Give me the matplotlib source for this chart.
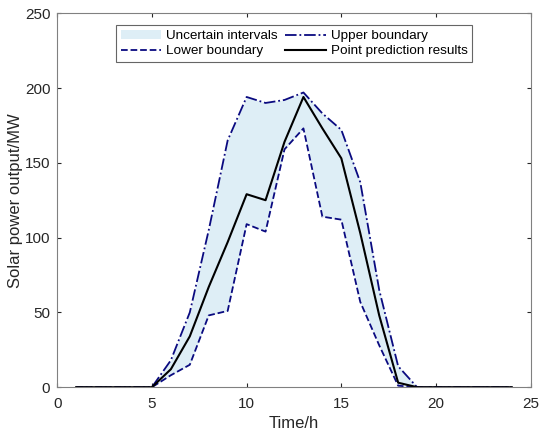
import numpy as np
import matplotlib
matplotlib.use('Agg')
from matplotlib import pyplot as plt

plt.rcParams['font.family'] = ['Liberation Sans', 'DejaVu Sans']

hours = np.arange(1, 25)
upper = [0, 0, 0, 0, 0, 18, 50, 105, 165, 194, 190, 192, 197, 183, 172, 137, 65, 14, 0, 0, 0, 0, 0, 0]
point = [0, 0, 0, 0, 0, 12, 34, 67, 97, 129, 125, 164, 194, 173, 153, 103, 48, 3, 0, 0, 0, 0, 0, 0]
lower = [0, 0, 0, 0, 0, 8, 15, 48, 51, 109, 104, 159, 173, 114, 112, 57, 28, 1, 0, 0, 0, 0, 0, 0]

fig = plt.figure(figsize=(5.5, 4.4), dpi=100)
ax = fig.add_axes([0.104, 0.12, 0.861, 0.85])

fill = ax.fill_between(hours, lower, upper, color='#deeef6', lw=0, label='Uncertain intervals')
l_low, = ax.plot(hours, lower, '--', color='#0a0a80', lw=1.3, label='Lower boundary')
l_up, = ax.plot(hours, upper, '-.', color='#0a0a80', lw=1.3, label='Upper boundary')
l_pt, = ax.plot(hours, point, '-', color='black', lw=1.5, label='Point prediction results')

ax.set_xlim(0, 25)
ax.set_ylim(0, 250)
ax.set_xticks(range(0, 26, 5))
ax.set_yticks(range(0, 251, 50))
ax.tick_params(direction='in', top=True, right=True, labelsize=11, colors='#262626', length=3)
ax.tick_params(axis='x', pad=7)
ax.tick_params(axis='y', pad=5)
for s in ax.spines.values():
    s.set_color('#808080')
    s.set_linewidth(0.8)
ax.set_xlabel('Time/h', fontsize=12, color='#262626', labelpad=4)
ax.set_ylabel('Solar power output/MW', fontsize=12, color='#262626', labelpad=1)

leg = ax.legend(handles=[fill, l_low, l_up, l_pt], ncol=2, loc='upper center',
                bbox_to_anchor=(0.5, 0.968), borderaxespad=0, fontsize=9.7, fancybox=False,
                edgecolor='#404040', handlelength=3.0, handletextpad=0.35,
                columnspacing=0.6, borderpad=0.35, labelspacing=0.2)
leg.get_frame().set_linewidth(0.8)

fig.savefig('out.png', dpi=100)
